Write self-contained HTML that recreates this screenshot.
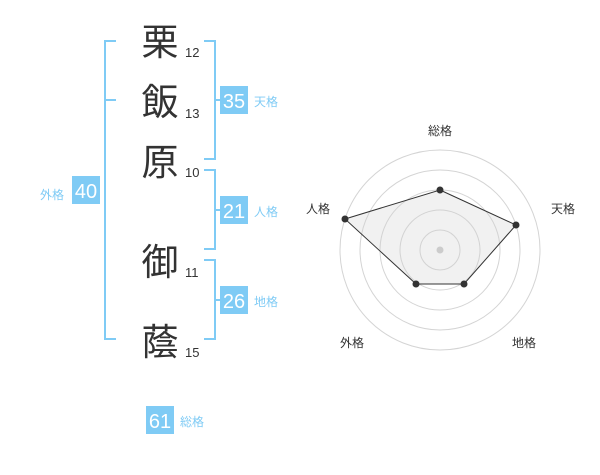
<!DOCTYPE html>
<html><head><meta charset="utf-8"><style>
body{margin:0;width:600px;height:470px;background:#fff;overflow:hidden}
svg text{font-family:"Liberation Sans","Noto Sans CJK JP",sans-serif}
</style></head><body>
<svg width="600" height="470" viewBox="0 0 600 470">
<g stroke="#7fcbf5" stroke-width="2" fill="none">
<path d="M116 41H105V339H116M105 100H116"/>
<path d="M204 41H215V159H204M215 100H222"/>
<path d="M204 170H215V249H204M215 210H222"/>
<path d="M204 260H215V339H204M215 300H222"/>
</g>
<g fill="#7fcbf5">
<rect x="72" y="176" width="28" height="28"/>
<rect x="220" y="86" width="28" height="28"/>
<rect x="220" y="196" width="28" height="28"/>
<rect x="220" y="286" width="28" height="28"/>
<rect x="146" y="406" width="28" height="28"/>
</g>
<g fill="#fff" font-size="20" text-anchor="middle">
<text x="86" y="198">40</text><text x="234" y="108">35</text>
<text x="234" y="218">21</text><text x="234" y="308">26</text>
<text x="160" y="428">61</text>
</g>
<g fill="#7fcbf5" font-size="12">
<text x="40" y="199">外格</text><text x="254" y="106">天格</text>
<text x="254" y="216">人格</text><text x="254" y="306">地格</text>
<text x="180" y="426">総格</text>
</g>
<g fill="#333" font-size="37" text-anchor="middle">
<text x="160" y="55">栗</text><text x="160" y="115">飯</text>
<text x="160" y="175">原</text><text x="160" y="275">御</text>
<text x="160" y="355">蔭</text>
</g>
<g fill="#333" font-size="13">
<text x="185" y="57">12</text><text x="185" y="118">13</text>
<text x="185" y="177">10</text><text x="185" y="277">11</text>
<text x="185" y="357">15</text>
</g>
<g stroke="#d4d4d4" fill="none">
<circle cx="440" cy="250" r="20"/><circle cx="440" cy="250" r="40"/>
<circle cx="440" cy="250" r="60"/><circle cx="440" cy="250" r="80"/>
<circle cx="440" cy="250" r="100"/>
</g>
<polygon points="440,190 516,225 464,284 416,284 345,219" fill="rgba(210,210,210,0.3)" stroke="#333" stroke-width="1"/>
<circle cx="440" cy="250" r="3.5" fill="#ccc"/>
<g fill="#333">
<circle cx="440" cy="190" r="3.5"/><circle cx="516" cy="225" r="3.5"/>
<circle cx="464" cy="284" r="3.5"/><circle cx="416" cy="284" r="3.5"/>
<circle cx="345" cy="219" r="3.5"/>
</g>
<g fill="#333" font-size="12" text-anchor="middle">
<text x="440" y="135">総格</text><text x="563" y="213">天格</text>
<text x="524" y="347">地格</text><text x="352" y="347">外格</text>
<text x="318" y="213">人格</text>
</g>
</svg>
</body></html>
